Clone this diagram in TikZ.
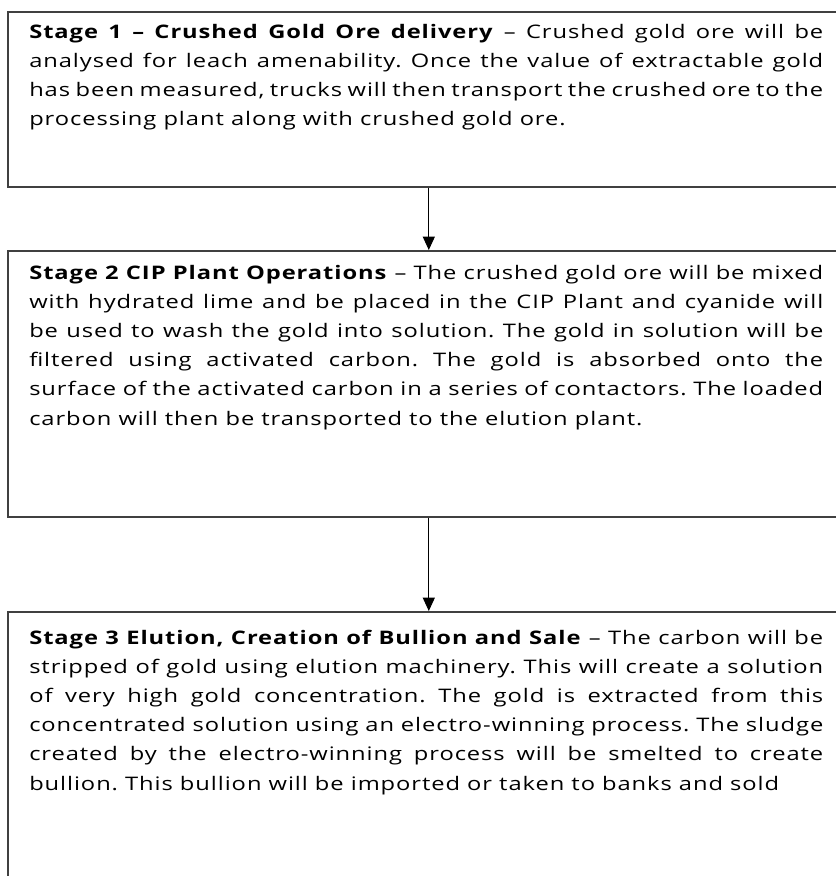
\documentclass[tikz,border=0pt]{standalone}
\usepackage{fontspec}
\setmainfont{Open Sans}[FakeStretch=1.27,LetterSpace=5]
\usetikzlibrary{arrows.meta,positioning}
\frenchspacing
\tikzset{
  stagebox/.style={draw=black!75,line width=1.2pt,minimum width=631.5pt,anchor=north west,inner sep=0pt},
  stagetext/.style={anchor=base west,text width=595.5pt,align=justify,inner sep=0pt,font=\fontsize{14}{21.9}\selectfont},
  flow/.style={-{Triangle[length=10pt,width=9pt]},line width=0.8pt}
}
\begin{document}
\begin{tikzpicture}[x=0.75pt,y=-0.75pt]
\useasboundingbox (0,0) rectangle (836,876);
\clip (0,0) rectangle (836,876);
% the three stages
\node[stagebox,minimum height=131.25pt] (s1) at (7,11) {};
\node[stagebox,minimum height=199.5pt] (s2) at (7,250) {};
\node[stagebox,minimum height=216.75pt] (s3) at (7,611) {};
\node[stagetext] (t1) at (29,38) {\textbf{Stage 1 -- Crushed Gold Ore delivery} -- Crushed gold ore will be\linebreak
analysed for leach amenability. Once the value of extractable gold\linebreak
has been measured, trucks will then transport the crushed ore to the\linebreak
processing plant along with crushed gold ore.};
\node[stagetext] (t2) at (29,279) {\textbf{Stage 2 CIP Plant Operations} -- The crushed gold ore will be mixed\linebreak
with hydrated lime and be placed in the CIP Plant and cyanide will\linebreak
be used to wash the gold into solution. The gold in solution will be\linebreak
filtered using activated carbon. The gold is absorbed onto the\linebreak
surface of the activated carbon in a series of contactors. The loaded\linebreak
carbon will then be transported to the elution plant.};
\node[stagetext] (t3) at (29,644) {\textbf{Stage 3 Elution, Creation of Bullion and Sale} -- The carbon will be\linebreak
stripped of gold using elution machinery. This will create a solution\linebreak
of very high gold concentration. The gold is extracted from this\linebreak
concentrated solution using an electro-winning process. The sludge\linebreak
created by the electro-winning process will be smelted to create\linebreak
bullion. This bullion will be imported or taken to banks and sold};
% connectors
\draw[flow] (s1.south) -- (s2.north);
\draw[flow] (s2.south) -- (s3.north);
\end{tikzpicture}
\end{document}
